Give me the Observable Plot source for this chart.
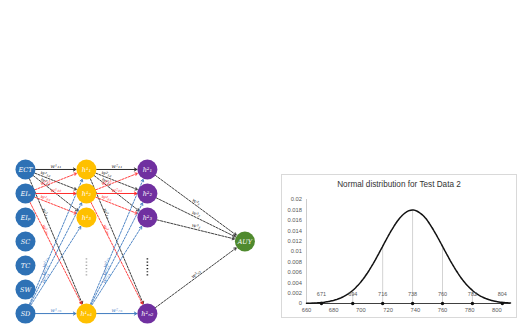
<!DOCTYPE html>
<html>
<head>
<meta charset="utf-8">
<script src="https://cdn.jsdelivr.net/npm/d3@7"></script>
<script src="https://cdn.jsdelivr.net/npm/@observablehq/plot@0.6"></script>
<style>
  html, body { margin: 0; padding: 0; background: #fff; }
  #page { position: relative; width: 518px; height: 327px; overflow: hidden; background: #fff; }
  #net { position: absolute; left: 0; top: 150px; }
  #frame { position: absolute; left: 281px; top: 174px; width: 234px; height: 142px; border: 1px solid #d9d9d9; box-sizing: content-box; background: #fff; }
  #title { font-family: "Liberation Sans", Arial, sans-serif; font-size: 8.2px; color: #333; text-align: center; padding-top: 5px; height: 10px; line-height: 10px; }
  svg { display: block; }
</style>
</head>
<body>
<div id="page">
  <div id="net"></div>
  <div id="frame"><div id="title">Normal distribution for Test Data 2</div><div id="dist"></div></div>
</div>
<script>
// ---------- Network diagram data ----------
const inputLabels = ["ECT", "EIₐ", "EIₚ", "SC", "TC", "SW", "SD"];
const inputRows = [0, 1, 2, 3, 4, 5, 6];
const hidden1Labels = ["h¹₁", "h¹₂", "h¹₃", "h¹ₙ₁"];
const hidden2Labels = ["h²₁", "h²₂", "h²₃", "h²ₙ₂"];
const hiddenRows = [0, 1, 2, 6];
const outputLabels = ["AUY"];
const outputRows = [3];
const layerPos = [0, 1, 2, 3.6];
const sourceGroups = ["first", "second", "last"];
const sourceRows = [0, 1, 6];
const outputWeightLabels = ["w³₁", "w³₂", "w³₃", "w³ₙ₂"];

// ---------- Normal distribution data ----------
const curveX = [660,665,670,675,680,685,690,695,700,705,710,715,720,725,730,735,738,740,745,750,755,760,765,770,775,780,785,790,795,800,805,810];
const curveY = [0.00004,0.00008,0.000165,0.00032,0.00059,0.00104,0.00174,0.00275,0.00415,0.00595,0.00811,0.01051,0.01294,0.01514,0.01684,0.01781,0.01797,0.0179,0.0171,0.01553,0.0134,0.011,0.00858,0.00636,0.00448,0.003,0.00191,0.00116,0.000665,0.000364,0.000189,0.00009];
const pointX = [671, 694, 716, 738, 760, 782, 804];
const pointY = [0.00018, 0.0025, 0.011, 0.018, 0.011, 0.0025, 0.00018];
const xTicks = [660, 680, 700, 720, 740, 760, 780, 800];
const yTicks = [0, 0.002, 0.004, 0.006, 0.008, 0.01, 0.012, 0.014, 0.016, 0.018, 0.02];

// ---------- styles ----------
const layerColors = ["#2e71b5", "#ffc000", "#7030a0", "#4f8a2e"];
const groupColor = {first: "#2b2b2b", second: "#ff2d2d", last: "#3f7bbf"};

// build node table
const nodes = [];
inputLabels.forEach((t, i) => nodes.push({layer: 0, x: layerPos[0], y: inputRows[i], text: t}));
hidden1Labels.forEach((t, i) => nodes.push({layer: 1, x: layerPos[1], y: hiddenRows[i], text: t}));
hidden2Labels.forEach((t, i) => nodes.push({layer: 2, x: layerPos[2], y: hiddenRows[i], text: t}));
outputLabels.forEach((t, i) => nodes.push({layer: 3, x: layerPos[3], y: outputRows[i], text: t}));

const sub = n => String(n).split("").map(c => "₀₁₂₃₄₅₆₇₈₉"[+c]).join("");
const sup = n => String(n).split("").map(c => "⁰¹²³⁴⁵⁶⁷⁸⁹"[+c]).join("");

// build edge table
const edges = [];
[0, 1].forEach(t => {
  sourceGroups.forEach((g, gi) => {
    const r = sourceRows[gi];
    hiddenRows.forEach((tr, ti) => {
      edges.push({
        x1: layerPos[t], y1: r, x2: layerPos[t + 1], y2: tr,
        group: g, solid: r === tr,
        w: "w" + sup(t + 1) + sub(r + 1) + (tr === 6 ? "ₙ" : sub(tr + 1))
      });
    });
  });
});
const outEdges = hiddenRows.map((r, i) => ({
  x1: layerPos[2], y1: r, x2: layerPos[3], y2: outputRows[0], group: "first", solid: false, w: outputWeightLabels[i]
}));

const xDom = [-0.41, 4.02], yDom = [-0.79, 6.58];
const W = 270, H = 177;
const pxX = W / (xDom[1] - xDom[0]), pxY = H / (yDom[1] - yDom[0]);
const angle = d => Math.atan2((d.y2 - d.y1) * pxY, (d.x2 - d.x1) * pxX) * 180 / Math.PI;

const allEdges = edges.concat(outEdges);
const labelPts = allEdges.map(d => {
  const f = d.solid ? 0.5 : (d.x2 - d.x1 > 1.2 ? 0.5 : 0.33);
  return {x: d.x1 + (d.x2 - d.x1) * f, y: d.y1 + (d.y2 - d.y1) * f, rot: angle(d), text: d.w, color: groupColor[d.group]};
});

const ellipsis = [
  {x: layerPos[1], y1: 3.7, y2: 4.5, color: "#aaaaaa"},
  {x: layerPos[2], y1: 3.7, y2: 4.5, color: "#222222"}
];

const net = Plot.plot({
  width: W, height: H, margin: 0,
  x: {domain: xDom, axis: null},
  y: {domain: yDom, reverse: true, axis: null},
  color: {type: "identity"},
  marks: [
    Plot.arrow(allEdges.filter(d => !d.solid), {
      x1: "x1", y1: "y1", x2: "x2", y2: "y2",
      stroke: d => groupColor[d.group], strokeWidth: 0.9, strokeDasharray: "2.2,1.3",
      headLength: 4.5, insetStart: 10, insetEnd: 10.5
    }),
    Plot.arrow(allEdges.filter(d => d.solid), {
      x1: "x1", y1: "y1", x2: "x2", y2: "y2",
      stroke: d => groupColor[d.group], strokeWidth: 1,
      headLength: 4.5, insetStart: 10, insetEnd: 10.5
    }),
    Plot.text(labelPts, {
      x: "x", y: "y", text: "text", rotate: "rot", dy: -3.5,
      fill: "color", fontSize: 5.2, fontStyle: "italic", fontFamily: "DejaVu Serif"
    }),
    Plot.link(ellipsis, {x1: "x", x2: "x", y1: "y1", y2: "y2", stroke: "color", strokeWidth: 1.6, strokeDasharray: "1.2,2"}),
    Plot.dot(nodes, {x: "x", y: "y", r: 10, fill: d => layerColors[d.layer], stroke: "none"}),
    Plot.text(nodes, {
      x: "x", y: "y", text: "text", fill: "white",
      fontSize: 6.5, fontStyle: "italic", fontFamily: "DejaVu Serif"
    })
  ]
});
document.getElementById("net").appendChild(net);

// ---------- Distribution chart ----------
const curve = curveX.map((x, i) => ({x, y: curveY[i]}));
const pts = pointX.map((x, i) => ({x, y: pointY[i]}));

const dist = Plot.plot({
  width: 234, height: 127,
  marginLeft: 24, marginRight: 6, marginTop: 9, marginBottom: 14,
  style: {fontFamily: "Liberation Sans, Arial, sans-serif", fontSize: "5.8px", color: "#595959", background: "white"},
  x: {domain: [660, 810], ticks: xTicks, tickSize: 0, tickPadding: 4.5, label: null},
  y: {domain: [0, 0.02], ticks: yTicks, tickSize: 0, tickPadding: 4.5, label: null, tickFormat: d => String(+d.toFixed(3))},
  marks: [
    Plot.ruleX([660], {y1: 0, y2: 0.02, stroke: "#bfbfbf", strokeWidth: 0.8}),
    Plot.ruleX(pts, {x: "x", y1: 0, y2: "y", stroke: "#c8c8c8", strokeWidth: 0.8}),
    Plot.ruleY([0], {stroke: "#404040", strokeWidth: 1}),
    Plot.line(curve, {x: "x", y: "y", stroke: "#111", strokeWidth: 1.5, strokeDasharray: "3,0.8", curve: "natural"}),
    Plot.dot(pts, {x: "x", y: 0, r: 1.7, fill: "#111"}),
    Plot.text(pts, {x: "x", y: 0, text: d => String(d.x), dy: -9, fontSize: 5.5, fill: "#595959"})
  ]
});
document.getElementById("dist").appendChild(dist);
</script>
</body>
</html>
